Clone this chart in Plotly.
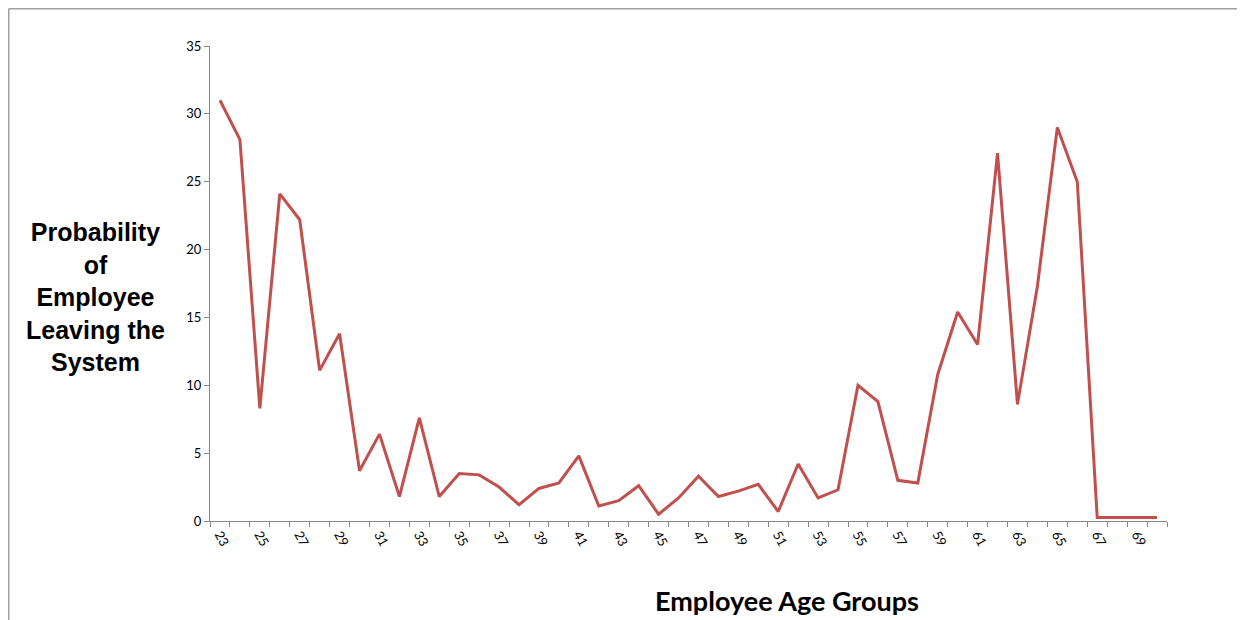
import plotly.graph_objects as go

ages = list(range(23, 71))
probability = [31.0, 28.1, 8.3, 24.1, 22.2, 11.1, 13.8, 3.7, 6.4, 1.8,
               7.6, 1.8, 3.5, 3.4, 2.5, 1.2, 2.4, 2.8, 4.8, 1.1,
               1.5, 2.6, 0.5, 1.7, 3.3, 1.8, 2.2, 2.7, 0.7, 4.2,
               1.7, 2.3, 10.0, 8.8, 3.0, 2.8, 10.8, 15.4, 13.0, 27.1,
               8.6, 17.3, 29.0, 25.0, 0.25, 0.25, 0.25, 0.25]
x_tick_labels = [str(a) for a in range(23, 71, 2)]
y_ticks = [0, 5, 10, 15, 20, 25, 30, 35]

# page is offset by the default 8px body margin
OFF = 8
W, H = 1245 - OFF, 620 - OFF
L, R, T, B = 210 - OFF, 1167 - OFF, 46 - OFF, 521 - OFF

fig = go.Figure()
fig.add_trace(go.Scatter(x=ages, y=probability, mode="lines",
                         line=dict(color="#C0504D", width=3),
                         showlegend=False, hoverinfo="x+y"))

def px_x(p):
    return (p - OFF - L) / (R - L)

def px_y(p):
    return (B - (p - OFF)) / (B - T)

fig.update_layout(
    width=W, height=H,
    margin=dict(l=L, r=W - R, t=T, b=H - B, pad=0),
    plot_bgcolor="white", paper_bgcolor="white",
    xaxis=dict(
        range=[22.5, 70.5],
        tickmode="array", tickvals=list(range(23, 71, 2)), ticktext=x_tick_labels,
        ticks="", tickangle=62, showgrid=False, zeroline=False,
        showline=True, linecolor="#868686", linewidth=1,
        tickfont=dict(family="Lato, Open Sans, sans-serif", size=13, color="#000"),
        minor=dict(tickmode="array", tickvals=[v + 0.5 for v in range(22, 71)],
                   ticks="outside", ticklen=5, tickcolor="#868686", tickwidth=1,
                   showgrid=False),
    ),
    yaxis=dict(
        range=[0, 35], tickmode="array", tickvals=y_ticks,
        ticks="outside", ticklen=5, tickcolor="#868686", tickwidth=1,
        showgrid=False, zeroline=False,
        showline=True, linecolor="#868686", linewidth=1,
        tickfont=dict(family="Lato, Open Sans, sans-serif", size=13, color="#000"),
    ),
    annotations=[
        dict(text="<b>Probability<br>of<br>Employee<br>Leaving the<br>System</b>",
             xref="paper", yref="paper", x=px_x(95), y=px_y(297),
             xanchor="center", yanchor="middle", showarrow=False, align="center",
             font=dict(family="Liberation Sans", size=25, color="#000")),
        dict(text="<b>Employee Age Groups</b>",
             xref="paper", yref="paper", x=px_x(787), y=px_y(600),
             xanchor="center", yanchor="middle", showarrow=False,
             font=dict(family="Lato, Open Sans, sans-serif", size=27, color="#000")),
    ],
    shapes=[
        dict(type="line", xref="paper", yref="paper",
             x0=px_x(8.75), x1=px_x(8.75), y0=px_y(8.75), y1=px_y(625),
             line=dict(color="#a0a0a0", width=1.5)),
        dict(type="line", xref="paper", yref="paper",
             x0=px_x(8.75), x1=px_x(1250), y0=px_y(8.75), y1=px_y(8.75),
             line=dict(color="#a0a0a0", width=1.5)),
    ],
)

fig.write_html("out.html")
